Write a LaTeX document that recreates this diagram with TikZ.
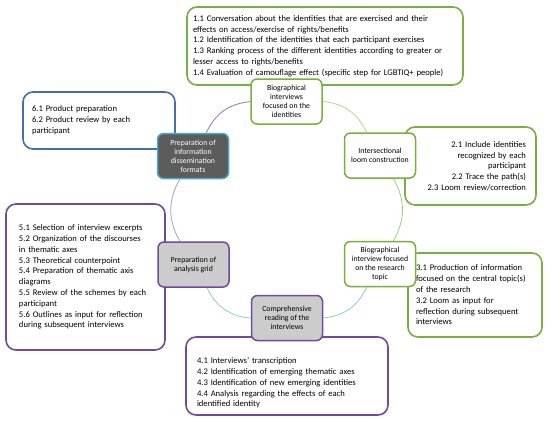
\documentclass[tikz,border=0pt]{standalone}
\usepackage{fontspec}
\setmainfont{Carlito}
\usepackage{tikz}
\usetikzlibrary{arrows.meta}

\definecolor{stepgreen}{RGB}{122,174,62}
\definecolor{stepblue}{RGB}{68,110,178}
\definecolor{steppurple}{RGB}{112,74,160}
\definecolor{stepgray}{RGB}{204,204,204}
\definecolor{stepdark}{RGB}{92,92,92}
\definecolor{stepcyan}{RGB}{72,172,200}

\begin{document}
\begin{tikzpicture}[x=1pt, y=-1pt,
  listbox/.style={draw, line width=1.6pt, rounded corners=10pt, fill=white,
    font=\fontsize{8.6}{10.8}\selectfont, inner xsep=10pt},
  stagenode/.style={draw, line width=1.5pt, rounded corners=6pt, fill=white,
    align=center, minimum width=71pt, minimum height=45pt, inner sep=1pt,
    font=\fontsize{7.8}{9}\selectfont},
  ring/.style={line width=0.8pt}]
\useasboundingbox (0,0) rectangle (550,421);
% lists of steps, behind the stages
\node[listbox, draw=stepgreen, text width=264pt, inner xsep=6pt, align=left, minimum height=78pt] (l1) at (325,46)
  {1.1 Conversation about the identities that are exercised and their\\
   effects on access/exercise of rights/benefits\\
   1.2 Identification of the identities that each participant exercises\\
   1.3 Ranking process of the different identities according to greater or\\
   lesser access to rights/benefits\\
   1.4 Evaluation of camouflage effect (specific step for LGBTIQ+ people)};
\node[listbox, draw=stepgreen, text width=111pt, align=right, minimum height=78pt] (l2) at (470.5,166)
  {2.1 Include identities\\recognized by each\\participant\\2.2 Trace the path(s)\\2.3 Loom review/correction};
\node[listbox, draw=stepgreen, text width=118pt, inner xsep=8pt, align=left, minimum height=84pt] (l3) at (475,295)
  {3.1 Production of information\\focused on the central topic(s)\\of the research\\3.2 Loom as input for\\reflection during subsequent\\interviews};
\node[listbox, draw=steppurple, text width=180pt, inner xsep=11pt, align=left, minimum height=78pt] (l4) at (287,376)
  {\rule{0pt}{20pt}4.1 Interviews' transcription\\4.2 Identification of emerging thematic axes\\4.3 Identification of new emerging identities\\4.4 Analysis regarding the effects of each\\identified identity};
\node[listbox, draw=steppurple, text width=133pt, inner xsep=13pt, align=left, minimum height=146pt] (l5) at (85.5,277)
  {5.1 Selection of interview excerpts\\5.2 Organization of the discourses\\in thematic axes\\5.3 Theoretical counterpoint\\5.4 Preparation of thematic axis\\diagrams\\5.5 Review of the schemes by each\\participant\\5.6 Outlines as input for reflection\\during subsequent interviews};
\node[listbox, draw=stepblue, text width=134pt, inner xsep=9pt, align=left, minimum height=57pt] (l6) at (99,120.5)
  {6.1 Product preparation\\6.2 Product review by each\\participant};
% the six stages on the ring
\node[stagenode, draw=stepgreen] (s1) at (286.5,101.5) {Biographical\\interviews\\focused on the\\identities};
\node[stagenode, draw=stepgreen] (s2) at (380,155.5) {Intersectional\\loom construction};
\node[stagenode, draw=stepgreen] (s3) at (380,264) {Biographical\\interview focused\\on the research\\topic};
\node[stagenode, draw=steppurple, fill=stepgray] (s4) at (287,318) {Comprehensive\\reading of the\\interviews};
\node[stagenode, draw=steppurple, fill=stepgray] (s5) at (193.5,264.5) {Preparation of\\analysis grid};
\node[stagenode, draw=stepcyan, fill=stepdark, text=white] (s6) at (193,156) {Preparation of\\information\\dissemination\\formats};
% ring segments
\draw[ring, draw={rgb,255:red,176;green,212;blue,150}] (s1) to[bend left=30] (s2);
\draw[ring, draw={rgb,255:red,150;green,206;blue,130}] (s2) to[bend left=30] (s3);
\draw[ring, draw={rgb,255:red,140;green,208;blue,180}] (s3) to[bend left=30] (s4);
\draw[ring, draw={rgb,255:red,150;green,200;blue,205}] (s4) to[bend left=30] (s5);
\draw[ring, draw={rgb,255:red,160;green,160;blue,205}] (s5) to[bend left=30] (s6);
\draw[ring, draw={rgb,255:red,140;green,120;blue,190}] (s6) to[bend left=30] (s1);
\end{tikzpicture}
\end{document}
